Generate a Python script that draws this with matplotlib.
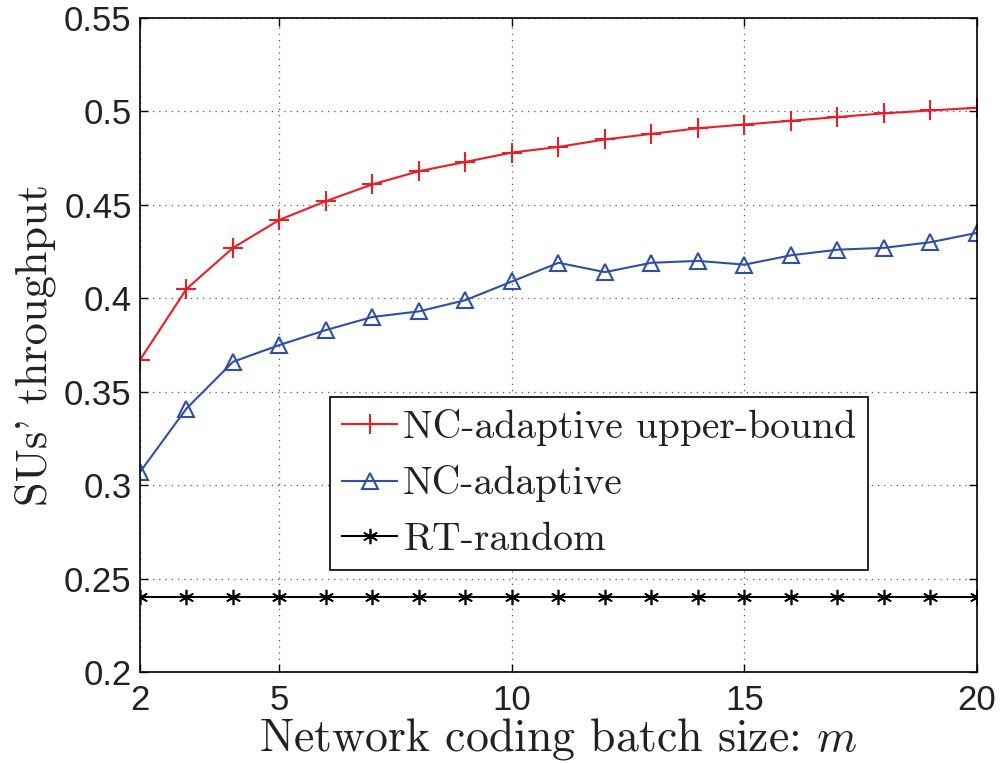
import matplotlib
matplotlib.use("Agg")
import matplotlib.pyplot as plt

plt.rcParams["mathtext.fontset"] = "cm"

m = list(range(2, 21))
upper_bound = [0.367, 0.405, 0.427, 0.442, 0.452, 0.461, 0.468, 0.473, 0.478, 0.481,
               0.485, 0.488, 0.491, 0.493, 0.495, 0.497, 0.499, 0.5005, 0.502]
nc_adaptive = [0.307, 0.341, 0.366, 0.375, 0.383, 0.390, 0.393, 0.399, 0.409, 0.419,
               0.414, 0.419, 0.420, 0.418, 0.423, 0.426, 0.427, 0.430, 0.435]
rt_random = [0.24] * len(m)
xticks = [2, 5, 10, 15, 20]
yticks = [0.2, 0.25, 0.3, 0.35, 0.4, 0.45, 0.5, 0.55]
ytick_labels = ["0.2", "0.25", "0.3", "0.35", "0.4", "0.45", "0.5", "0.55"]

fig = plt.figure(figsize=(10.02, 7.63), dpi=100)
ax = fig.add_axes([0.1397, 0.1193, 0.8353, 0.8571])

ax.plot(m, upper_bound, color="#ee1c25", lw=1.5, marker="+", markersize=15,
        markeredgewidth=1.5, label="NC-adaptive upper-bound")
ax.plot(m, nc_adaptive, color="#2f4fa5", lw=1.5, marker="^", markersize=12,
        markerfacecolor="none", markeredgewidth=1.5, label="NC-adaptive")
ax.plot(m, rt_random, color="black", lw=1.5, marker=(6, 2, 0), markersize=11,
        markeredgewidth=1.2, label="RT-random")

ax.set_xlim(2, 20)
ax.set_ylim(0.2, 0.55)
ax.set_xticks(xticks)
ax.set_yticks(yticks)
ax.set_yticklabels(ytick_labels)
ax.tick_params(direction="in", top=True, right=True, length=6, width=1,
               labelsize=25)
ax.tick_params(axis="x", pad=9)
ax.tick_params(axis="y", pad=6)
for lab in ax.get_xticklabels() + ax.get_yticklabels():
    lab.set_fontfamily("Liberation Sans")
    lab.set_color("#222222")
ax.grid(True, linestyle=(0, (1, 4)), color="#555555", linewidth=0.9)
for s in ax.spines.values():
    s.set_linewidth(1.2)

ax.set_xlabel("Network coding batch size: $m$", fontfamily="cmr10", fontsize=33,
              labelpad=-1, color="#222222")
ax.set_ylabel("SUs' throughput", fontfamily="cmr10", fontsize=32, labelpad=6,
              color="#222222")

leg = ax.legend(loc="lower left", bbox_to_anchor=(0.227, 0.156), borderaxespad=0,
                prop={"family": "cmr10", "size": 28.5},
                frameon=True, fancybox=False, edgecolor="black", framealpha=1,
                handlelength=1.4, borderpad=0.3, labelspacing=0.5, handletextpad=0.15)
leg.get_frame().set_linewidth(1.2)
for t in leg.get_texts():
    t.set_color("#222222")

fig.savefig("out.png", dpi=100)
